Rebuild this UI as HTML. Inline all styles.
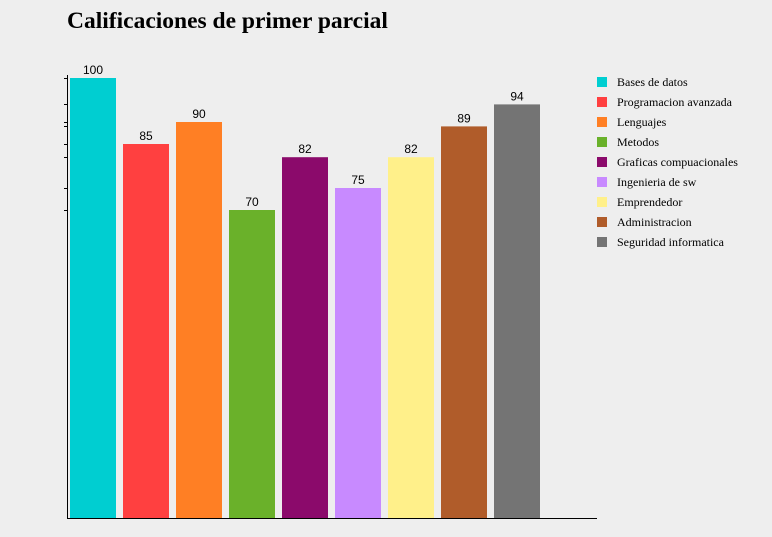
<!DOCTYPE html>
<html><head><meta charset="utf-8"><style>
body{margin:0;background:#eeeeee;}
svg{display:block;}
</style></head><body>
<svg width="772" height="537">
<rect width="772" height="537" fill="#eeeeee"/>
<text x="67" y="28" font-family="Liberation Serif, serif" font-weight="bold" font-size="23.5" fill="#000">Calificaciones de primer parcial</text>
<g id="plot"></g>
</svg>
<script>
const categories=["Bases de datos","Programacion avanzada","Lenguajes","Metodos","Graficas compuacionales","Ingenieria de sw","Emprendedor","Administracion","Seguridad informatica"];
const values=[100,85,90,70,82,75,82,89,94];
const colors=["#00ced1","#ff4040","#ff7f24","#6ab12a","#8b0a6b","#c88aff","#fff08a","#b05c2a","#747474"];
const NS="http://www.w3.org/2000/svg";
const g=document.getElementById('plot');
const y0=518, scale=4.4, x0=70, step=53, bw=46;
function y(v){return y0-v*scale;}
function mk(t,a){const e=document.createElementNS(NS,t);for(const k in a)e.setAttribute(k,a[k]);g.appendChild(e);return e;}
let yl=mk('line',{x1:67.5,y1:75,x2:67.5,y2:518,stroke:'#000','stroke-width':1});


let xl=mk('line',{x1:67,y1:518.5,x2:597,y2:518.5,stroke:'#000','stroke-width':1});


values.forEach((v,i)=>{
  const t=mk('line',{x1:64,x2:67,y1:Math.round(y(v))+0.5,y2:Math.round(y(v))+0.5,stroke:'#000'});
  
  
  const r=mk('rect',{x:x0+i*step,y:y(v),width:bw,height:v*scale,fill:colors[i]});
  
  
  const l=mk('text',{x:x0+i*step+bw/2,y:y(v)-4,'text-anchor':'middle','font-family':'Liberation Sans, sans-serif','font-size':12,fill:'#000'});
  l.textContent=v;
  
  
  const s=mk('rect',{x:597,y:77+i*20,width:10,height:10,fill:colors[i]});
  
  
  const lt=mk('text',{x:617,y:86+i*20,'font-family':'Liberation Serif, serif','font-size':12,'textLength':0,fill:'#000'});
  lt.removeAttribute('textLength');
  lt.textContent=categories[i];
  
  
});
</script>
</body></html>
